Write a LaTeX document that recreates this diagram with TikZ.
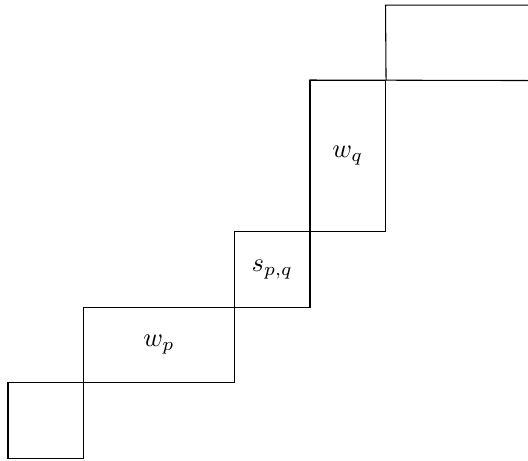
\documentclass[tikz,border=0pt]{standalone}
\begin{document}
\begin{tikzpicture}[x=1cm,y=1cm,box/.style={draw,line width=0.4pt,minimum size=0pt,inner sep=0pt}]
\useasboundingbox (-0.106,-0.026) rectangle (6.887,6.067);
\node[box,minimum width=1cm,minimum height=1cm] (a) at (0.5,0.5) {};
\node[box,minimum width=2cm,minimum height=1cm] (wp) at (2,1.5) {$w_p$};
\node[box,minimum width=1cm,minimum height=1cm] (s) at (3.5,2.5) {$s_{p,q}$};
\node[box,minimum width=1cm,minimum height=2cm] (wq) at (4.5,4) {$w_q$};
\coordinate (t1) at (6.95,5);
\coordinate (t2) at (6.95,6);
\draw (wq.north west) -- (t1);
\draw (wq.north east) -- (5,6) -- (t2);
\end{tikzpicture}
\end{document}
